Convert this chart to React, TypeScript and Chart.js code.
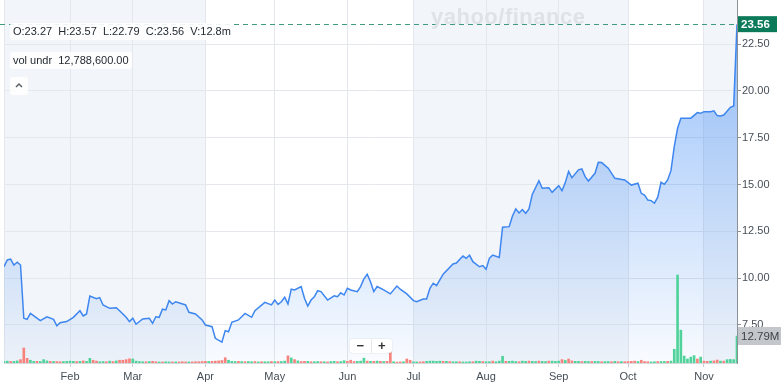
import React, { useEffect, useRef } from "react";
import { Chart, registerables } from "chart.js";
Chart.register(...registerables);

// ---- data (trading-day index from the first session shown) ----
const priceDays = [
  0, 1, 2, 3, 4, 5, 6, 7, 8, 11, 13, 15, 16, 17, 19, 21, 23, 24, 25, 26, 28, 29, 30, 32, 34, 35, 37, 38, 39, 40,
  42, 44, 45, 46, 47, 48, 49, 50, 51, 52, 55, 56, 58, 60, 61, 63, 64, 66, 67, 68, 69, 71, 73, 75, 76, 79, 81, 82,
  83, 84, 85, 86, 87, 88, 90, 91, 92, 93, 94, 95, 96, 98, 100, 101, 102, 103, 104, 105, 107, 108, 109, 110, 111,
  112, 113, 115, 117, 119, 120, 122, 124, 125, 127, 128, 129, 130, 131, 133, 136, 137, 139, 140, 141, 142, 144,
  145, 146, 147, 148, 150, 151, 153, 154, 155, 156, 157, 158, 159, 160, 162, 163, 165, 166, 168, 169, 170, 171,
  172, 174, 175, 176, 177, 179, 180, 181, 183, 185, 188, 190, 192, 193, 194, 195, 196, 197, 198, 199, 200, 201,
  202, 203, 204, 205, 208, 210, 211, 212, 214, 215, 216, 217, 218, 220, 221, 222,
];
const priceClose = [
  10.61, 10.97, 11.02, 10.7, 10.85, 10.7, 7.86, 7.8, 8.12, 7.73, 7.94, 7.8, 7.46, 7.62, 7.68, 7.91, 8.26, 7.98,
  8.09, 9.05, 8.9, 8.96, 8.57, 8.39, 8.42, 8.26, 7.91, 7.68, 7.86, 7.54,
  7.82, 7.86, 7.59, 7.94, 7.91, 8.34, 8.3, 8.8, 8.62, 8.74, 8.57, 8.18, 8.09, 7.77, 7.5, 7.41, 6.79, 6.58, 7.2,
  7.14, 7.64, 7.77, 8.12, 7.91, 8.26, 8.71, 8.57, 8.83,
  8.6, 8.74, 8.98, 8.62, 9.41, 9.37, 9.55, 8.93, 8.51, 8.83, 9.01, 9.33, 9.28, 8.83, 9.06, 9.01, 9.22, 9.1, 9.46,
  9.37, 9.28, 9.55, 9.96, 10.21, 9.81,
  9.28, 9.55, 9.37, 9.16, 9.58, 9.41, 9.16, 8.8, 8.74, 8.89, 8.89, 9.46, 9.73, 9.6, 10.21, 10.76, 10.81, 11.18,
  11.06, 11.22, 10.88, 10.61,
  10.67, 10.47, 11.06, 11.23, 11.1, 12.72, 12.75, 13.32, 13.7, 13.48, 13.66, 13.46, 13.7, 14.47, 15.2, 14.8,
  14.83, 14.58, 14.94, 14.67, 15.1, 15.7,
  15.36, 15.78, 15.83, 15.42, 15.19, 15.6, 16.19, 16.17, 15.87, 15.33, 15.24, 14.97, 15.07, 14.53, 14.44, 14.17,
  14.14, 14.0, 14.32, 15.12, 15.01, 15.24,
  15.74, 17.02, 18.0, 18.54, 18.54, 18.84, 18.8, 18.89, 18.89, 18.93, 18.68, 18.66, 18.71, 19.12, 19.19, 23.56,
];
// daily volume, millions
const volumeM = [
  0.8, 0.9, 0.7, 0.8, 1.0, 1.6, 7.1, 2.2, 1.3, 0.8,
  0.8, 0.7, 1.6, 1.0, 0.8, 0.7, 0.7, 0.6, 0.7, 0.8,
  0.9, 0.8, 0.7, 0.8, 1.0, 0.8, 2.2, 1.3, 0.9, 0.6,
  0.7, 0.6, 0.9, 0.7, 1.0, 1.3, 1.3, 1.6, 2.0, 1.9,
  0.9, 0.7, 0.6, 0.6, 0.7, 0.8, 0.6, 0.5, 0.5, 0.6,
  0.5, 0.5, 0.5, 0.5, 0.6, 0.5, 0.5, 0.5, 0.6, 0.6,
  0.7, 0.8, 0.7, 0.8, 0.9, 1.0, 1.2, 2.5, 1.3, 0.8,
  0.7, 0.8, 0.7, 0.6, 0.7, 0.6, 0.7, 0.5, 0.6, 0.6,
  0.6, 0.7, 0.6, 0.7, 0.7, 0.9, 3.4, 2.4, 1.6, 1.0,
  0.7, 0.8, 0.8, 0.6, 0.6, 0.7, 0.6, 0.6, 0.5, 0.7,
  0.8, 0.6, 0.7, 1.1, 0.8, 1.3, 0.7, 0.8, 0.9, 2.3,
  0.9, 0.8, 0.8, 0.9, 0.8, 0.7, 0.8, 8.5, 0.6, 0.4,
  0.5, 0.6, 1.9, 1.3, 0.6, 0.5, 0.5, 0.6, 0.8, 0.9,
  0.9, 0.8, 0.9, 0.8, 0.8, 0.7, 0.6, 0.6, 0.6, 0.5,
  0.5, 0.6, 0.6, 0.9, 0.8, 0.7, 0.6, 0.6, 0.9, 0.6,
  0.9, 3.2, 0.8, 0.8, 0.9, 0.7, 0.6, 0.9, 0.8, 0.9,
  0.8, 0.7, 0.9, 0.8, 0.7, 0.9, 0.9, 0.8, 0.9, 1.6,
  1.2, 1.9, 1.0, 0.8, 0.8, 0.7, 0.8, 0.7, 0.7, 0.8,
  0.7, 0.6, 0.7, 0.7, 0.6, 0.8, 0.6, 0.7, 0.6, 0.7,
  0.8, 0.9, 0.7, 1.3, 0.7, 0.6, 0.5, 0.6, 0.7, 0.7,
  0.7, 0.8, 0.9, 6.5, 41.7, 15.6, 3.3, 1.9, 2.8, 3.5,
  1.9, 2.8, 0.9, 0.8, 0.9, 1.0, 1.4, 0.9, 0.9, 1.6,
  1.7, 1.6, 12.79,
];
// g = up day, r = down day
const volumeDir =
  "ggrggrrrgg" + "rgggrgrrgg" + "ggrgrggrrg" + "grgrgrrrrg" + "gggrgrrgrg" +
  "grgrrrgrrr" + "rrgrrrrrgg" + "grgrggrgrg" + "grgrggrgrg" + "rrgrggrgrg" +
  "grggrrrggg" + "rgrgrgrrgr" + "rgrrggrrgg" + "gggrgrggrg" + "ggrggrggrg" +
  "ggrgggrggr" + "ggrggrgggr" + "grrggrggrg" + "grggrgrgrr" + "rrgrrrggrg" +
  "grgggggggg" + "rgrrgrrgrg" + "ggg";

const monthTickDays = [20, 39, 61, 82, 104, 124, 146, 168, 189, 212];
const monthLabels = ["Feb", "Mar", "Apr", "May", "Jun", "Jul", "Aug", "Sep", "Oct", "Nov"];
const shadedRanges = [[0, 61], [124, 189], [212, 222]];
const priceTicks = [7.5, 10, 12.5, 15, 17.5, 20, 22.5];
const priceMin = 5.47;
const priceMax = 24.85;
const volumeMax = 172;
const lastDay = 222;
const lastPrice = 23.56;
const lastVolumeLabel = "12.79M";
const ohlcText = "O:23.27  H:23.57  L:22.79  C:23.56  V:12.8m";
const volUnderText = "vol undr  12,788,600.00";

const FONT = '"Liberation Sans", Arial, Helvetica, sans-serif';

export default function App() {
  const ref = useRef<HTMLCanvasElement | null>(null);

  useEffect(() => {
    if (!ref.current) return;
    Chart.defaults.font.family = FONT;

    const bands = {
      id: "bands",
      beforeDraw(chart: any) {
        const { ctx, chartArea: a, scales } = chart;
        const x = scales.x;
        ctx.save();
        ctx.fillStyle = "#f2f5f9";
        shadedRanges.forEach(([s, e]) => {
          const x0 = x.getPixelForValue(s);
          const x1 = x.getPixelForValue(e);
          ctx.fillRect(x0, a.top, x1 - x0, a.bottom - a.top);
        });
        ctx.strokeStyle = "#e4e7eb";
        ctx.lineWidth = 1;
        ctx.beginPath();
        ctx.moveTo(Math.round(a.left) + 0.5, a.top);
        ctx.lineTo(Math.round(a.left) + 0.5, a.bottom);
        ctx.stroke();
        ctx.restore();
      },
    };

    const tags = {
      id: "tags",
      afterDraw(chart: any) {
        const { ctx, chartArea: a, scales } = chart;
        const yp = scales.y.getPixelForValue(lastPrice);
        ctx.save();
        ctx.strokeStyle = "#3f9a80";
        ctx.lineWidth = 1;
        ctx.setLineDash([5, 4]);
        ctx.beginPath();
        ctx.moveTo(0, Math.round(yp) + 0.5);
        ctx.lineTo(a.right, Math.round(yp) + 0.5);
        ctx.stroke();
        ctx.setLineDash([]);
        // price tag
        ctx.fillStyle = "#0b7a59";
        ctx.fillRect(a.right + 1, yp - 8, 39, 16);
        ctx.fillStyle = "#ffffff";
        ctx.font = "bold 11.5px " + FONT;
        ctx.textBaseline = "middle";
        ctx.textAlign = "left";
        ctx.fillText(lastPrice.toFixed(2), a.right + 4, yp + 0.5);
        // volume tag
        const vy = scales.yv.getPixelForValue(volumeM[lastDay]);
        ctx.fillStyle = "#c3c6ca";
        ctx.fillRect(a.right + 1, vy - 9, 50, 18);
        ctx.fillStyle = "#3d4349";
        ctx.font = "11.5px " + FONT;
        ctx.fillText(lastVolumeLabel, a.right + 4, vy + 0.5);
        ctx.restore();
      },
    };

    const chart = new Chart(ref.current, {
      type: "line",
      data: {
        datasets: [
          {
            type: "line",
            data: priceDays.map((d, i) => ({ x: d, y: priceClose[i] })),
            yAxisID: "y",
            borderColor: "#3d86f0",
            borderWidth: 1.5,
            pointRadius: 0,
            tension: 0,
            fill: "start",
            order: 2,
            backgroundColor: (c: any) => {
              const a = c.chart.chartArea;
              if (!a) return "rgba(66,140,245,0.25)";
              const g = c.chart.ctx.createLinearGradient(0, a.top, 0, a.bottom);
              g.addColorStop(0, "rgba(66,140,245,0.58)");
              g.addColorStop(1, "rgba(66,140,245,0.03)");
              return g;
            },
          } as any,
          {
            type: "bar",
            data: volumeM.map((v, i) => ({ x: i, y: v })),
            yAxisID: "yv",
            barThickness: 2,
            backgroundColor: volumeM.map((_, i) => (volumeDir[i] === "r" ? "#f7837c" : "#4fd39a")),
            borderWidth: 0,
            order: 1,
          } as any,
        ],
      },
      options: {
        animation: false,
        responsive: true,
        maintainAspectRatio: false,
        layout: { padding: { left: 4, top: 0, right: 0, bottom: 0 } },
        plugins: { legend: { display: false }, tooltip: { enabled: false } },
        scales: {
          x: {
            type: "linear",
            min: 0,
            max: lastDay,
            offset: false,
            afterBuildTicks: (s: any) => {
              s.ticks = monthTickDays.map((v) => ({ value: v }));
            },
            afterFit: (s: any) => {
              s.height = 19;
              s.paddingLeft = 0;
              s.paddingRight = 0;
            },
            ticks: {
              autoSkip: false,
              maxRotation: 0,
              padding: 3,
              color: "#464e56",
              font: { size: 11, family: FONT },
              callback: (v: any) => monthLabels[monthTickDays.indexOf(Number(v))],
            },
            grid: { offset: false, color: "#e4e7eb", tickColor: "#c9cdd2", tickLength: 4 },
            border: { color: "#d5d8dc" },
          },
          y: {
            position: "right",
            min: priceMin,
            max: priceMax,
            afterBuildTicks: (s: any) => {
              s.ticks = priceTicks.map((v) => ({ value: v }));
            },
            afterFit: (s: any) => {
              s.width = 44;
              s.paddingTop = 0;
              s.paddingBottom = 0;
            },
            ticks: {
              padding: 1,
              color: "#464e56",
              font: { size: 11, family: FONT },
              callback: (v: any) => Number(v).toFixed(2),
            },
            grid: { color: "#e4e7eb", tickColor: "#8c9196", tickLength: 4 },
            border: { display: true, color: "#8c9196" },
          },
          yv: {
            display: false,
            min: 0,
            max: volumeMax,
          },
        },
      } as any,
      plugins: [bands, tags],
    });
    return () => chart.destroy();
  }, []);

  const box: React.CSSProperties = {
    position: "absolute",
    background: "rgba(255,255,255,0.9)",
    borderRadius: 3,
    font: "11px " + FONT,
    color: "#232a31",
    whiteSpace: "pre",
    lineHeight: "17px",
    padding: "0 3px",
  };

  return (
    <div style={{ position: "absolute", left: 0, top: 0, width: 781, height: 382, background: "#fff" }}>
      <canvas ref={ref} />
      <div
        style={{
          position: "absolute",
          left: 431,
          top: 4,
          font: "bold 22px " + FONT,
          color: "#dfe3e8",
          letterSpacing: 0.5,
          pointerEvents: "none",
        }}
      >
        yahoo/finance
      </div>
      <div style={{ ...box, left: 10, top: 23 }}>{ohlcText}</div>
      <div style={{ ...box, left: 10, top: 52 }}>{volUnderText}</div>
      <div style={{ ...box, left: 10, top: 77, width: 12, height: 18, padding: "0 3px" }}>
        <svg width="12" height="18" viewBox="0 0 12 18">
          <polyline points="3,10 6,7 9,10" fill="none" stroke="#5b636a" strokeWidth="1.5" />
        </svg>
      </div>
      <div
        style={{
          position: "absolute",
          left: 350,
          top: 339,
          width: 42,
          height: 14,
          background: "#fff",
          borderRadius: 3,
          boxShadow: "0 0 2px rgba(0,0,0,0.12)",
          display: "flex",
          font: "bold 13px " + FONT,
          color: "#333",
          lineHeight: "14px",
        }}
      >
        <span style={{ flex: 1, textAlign: "center", borderRight: "1px solid #e6e8eb" }}>−</span>
        <span style={{ flex: 1, textAlign: "center" }}>+</span>
      </div>
    </div>
  );
}
